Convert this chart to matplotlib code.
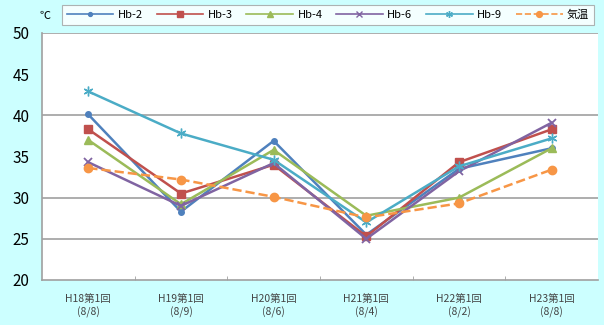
import matplotlib.pyplot as plt
from matplotlib.lines import Line2D

plt.rcParams['font.family'] = ['Noto Sans CJK JP', 'DejaVu Sans']

# Data
categories = ["H18第1回\n(8/8)", "H19第1回\n(8/9)", "H20第1回\n(8/6)",
              "H21第1回\n(8/4)", "H22第1回\n(8/2)", "H23第1回\n(8/8)"]
hb2 = [40.1, 28.3, 36.9, 25.5, 33.5, 36.0]
hb3 = [38.3, 30.5, 34.0, 25.3, 34.3, 38.3]
hb4 = [37.0, 29.2, 35.8, 27.8, 30.0, 36.0]
hb6 = [34.3, 29.0, 34.2, 25.0, 33.2, 39.1]
hb9 = [42.9, 37.8, 34.6, 27.0, 33.8, 37.2]
kion = [33.6, 32.2, 30.1, 27.6, 29.3, 33.4]

series = [
    ("Hb-2", hb2, "#4F81BD", "o", "-", 4),
    ("Hb-3", hb3, "#C0504D", "s", "-", 6),
    ("Hb-4", hb4, "#9BBB59", "^", "-", 6),
    ("Hb-6", hb6, "#8064A2", "x", "-", 6),
    ("Hb-9", hb9, "#4BACC6", (6, 2, 0), "-", 7),
    ("気温", kion, "#F79646", "o", "--", 6),
]

fig = plt.figure(figsize=(6.04, 3.25), dpi=100, facecolor="#CCFFFF")
ax = fig.add_axes([0.0695, 0.1385, 0.9205, 0.76])
ax.set_facecolor("white")

x = list(range(len(categories)))
handles = []
for name, vals, color, marker, ls, ms in series:
    ax.plot(x, vals, color=color, linestyle=ls, linewidth=1.8,
            marker=marker, markersize=ms, markeredgewidth=1.3 if marker == "x" else 1,
            zorder=3)
    handles.append(Line2D([], [], color=color, linestyle=ls, linewidth=1.2,
                          marker=marker, markersize=ms * 0.7, label=name))

ax.set_xlim(-0.5, len(categories) - 0.5)
ax.set_ylim(20, 50)
ax.set_yticks([20, 25, 30, 35, 40, 45, 50])
for g in [25, 30, 40, 50]:
    ax.axhline(g, color="#A0A0A0", linewidth=1.2, zorder=1)

ax.set_xticks(x)
ax.set_xticklabels(categories, fontsize=7.5, color="#444444", linespacing=1.3)
ax.set_xticks([i + 0.5 for i in x[:-1]], minor=True)
ax.tick_params(axis="x", which="major", length=0, pad=10)
ax.tick_params(axis="x", which="minor", length=3, direction="in", color="#A0A0A0")
ax.tick_params(axis="y", length=0, labelsize=11, pad=9)

for side in ["top", "right"]:
    ax.spines[side].set_visible(False)
for side in ["left", "bottom"]:
    ax.spines[side].set_color("#A0A0A0")
    ax.spines[side].set_linewidth(1.2)

fig.text(0.075, 0.95, "℃", fontsize=8, ha="center", va="center")

leg = fig.legend(handles=handles, loc="lower left", ncol=6, mode="expand",
                 bbox_to_anchor=(0.093, 0.905, 0.9, 0.088), bbox_transform=fig.transFigure,
                 fontsize=8, frameon=True, fancybox=False, edgecolor="#A0A0A0",
                 handlelength=4.2, handletextpad=0.4, borderpad=0.45)
leg.get_frame().set_linewidth(0.8)

fig.savefig("out.png", dpi=100, facecolor=fig.get_facecolor())
